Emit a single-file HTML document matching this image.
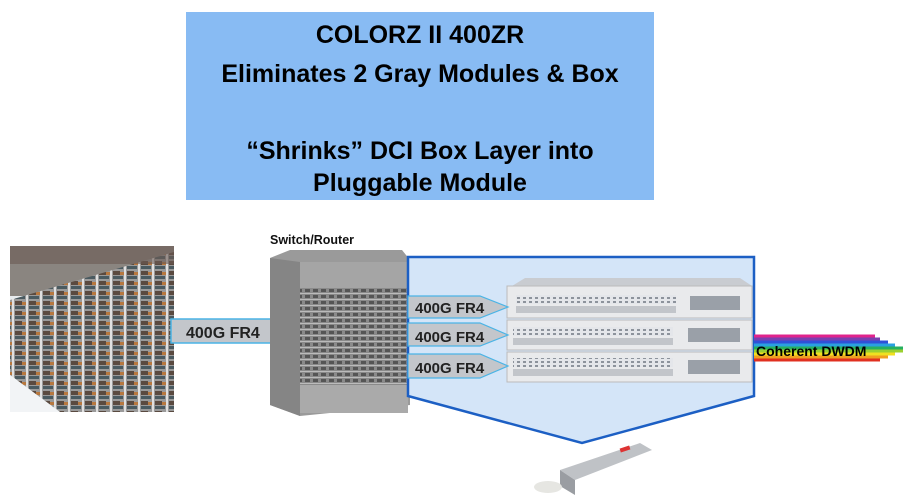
<!DOCTYPE html>
<html><head><meta charset="utf-8"><style>
html,body{margin:0;padding:0;background:#fff;width:916px;height:503px;overflow:hidden}
svg{display:block}
text{font-family:"Liberation Sans",Arial,sans-serif;font-weight:bold}
</style></head><body>
<svg width="916" height="503" viewBox="0 0 916 503" xmlns="http://www.w3.org/2000/svg">
<defs>
<pattern id="rack" width="14" height="10" patternUnits="userSpaceOnUse">
<rect width="14" height="10" fill="#9a9a9a"/>
<rect x="1" y="1" width="7" height="4" fill="#5a4a40"/>
<rect x="8" y="2" width="4" height="3" fill="#b7783f"/>
<rect x="1" y="6" width="10" height="3" fill="#4a5a60"/>
<rect x="12" y="0" width="2" height="10" fill="#e0e0e0"/>
</pattern>
<pattern id="grill" width="6" height="4" patternUnits="userSpaceOnUse">
<rect width="6" height="4" fill="#e4e6ea"/><rect x="1" y="1" width="3" height="2" fill="#8d939c"/>
</pattern>
<pattern id="rt" width="8" height="6" patternUnits="userSpaceOnUse">
<rect width="8" height="6" fill="#8a8a8a"/><rect x="1" y="1" width="5" height="3" fill="#555"/><rect x="0" y="5" width="8" height="1" fill="#bbb"/>
</pattern>
</defs>
<!-- title box -->
<rect x="186" y="12" width="468" height="188" fill="#88bbf3"/>
<g font-size="25" text-anchor="middle" fill="#000">
<text x="420" y="43">COLORZ II 400ZR</text>
<text x="420" y="82">Eliminates 2 Gray Modules &amp; Box</text>
<text x="420" y="159">“Shrinks” DCI Box Layer into</text>
<text x="420" y="191">Pluggable Module</text>
</g>
<!-- datacenter -->
<rect x="10" y="246" width="164" height="166" fill="#e8ecef"/>
<rect x="10" y="246" width="164" height="50" fill="#8a8580"/>
<polygon points="10,300 174,252 174,412 60,412 10,375" fill="url(#rack)"/>
<polygon points="10,375 60,412 10,412" fill="#f2f4f6"/>
<rect x="10" y="246" width="164" height="18" fill="#6a5a54" opacity="0.6"/>
<!-- left arrow -->
<polygon points="171,319 283,319 298,331 283,343 171,343" fill="#c3c6cb" stroke="#4ab4e6" stroke-width="1.5"/>
<text x="186" y="338" font-size="16" fill="#222">400G FR4</text>
<!-- router -->
<text x="270" y="244" font-size="12.5" fill="#111">Switch/Router</text>
<polygon points="270,258 290,250 402,250 410,260 410,405 300,416 270,405" fill="#9a9a9a"/>
<polygon points="270,258 300,262 300,416 270,405" fill="#858585"/>
<rect x="300" y="262" width="108" height="150" fill="url(#rt)"/>
<rect x="300" y="262" width="108" height="26" fill="#a5a5a5"/>
<rect x="300" y="385" width="108" height="28" fill="#aaa"/>
<!-- blue pentagon -->
<polygon points="408,257 754,257 754,396 582,443 408,396" fill="#d4e5f8" stroke="#1c5fc4" stroke-width="2.5"/>
<!-- servers -->
<g>
<polygon points="512,286 525,278 740,278 752,286" fill="#c9ccd1"/>
<rect x="507" y="286" width="245" height="32" fill="#e9eaec" stroke="#bbb"/>
<rect x="516" y="295" width="95" height="9" fill="url(#grill)"/><rect x="611" y="295" width="65" height="9" fill="url(#grill)"/>
<rect x="516" y="306" width="160" height="7" fill="#c2c5ca"/>
<rect x="507" y="320" width="245" height="30" fill="#e9eaec" stroke="#bbb"/>
<rect x="513" y="327" width="95" height="9" fill="url(#grill)"/><rect x="608" y="327" width="65" height="9" fill="url(#grill)"/>
<rect x="513" y="338" width="160" height="7" fill="#c2c5ca"/>
<rect x="507" y="352" width="245" height="30" fill="#e9eaec" stroke="#bbb"/>
<rect x="513" y="358" width="95" height="9" fill="url(#grill)"/><rect x="608" y="358" width="65" height="9" fill="url(#grill)"/>
<rect x="513" y="369" width="160" height="7" fill="#c2c5ca"/>
<rect x="690" y="296" width="50" height="14" fill="#9aa0a8"/>
<rect x="688" y="328" width="52" height="14" fill="#9aa0a8"/>
<rect x="688" y="360" width="52" height="14" fill="#9aa0a8"/>
</g>
<!-- small arrows -->
<g fill="#c3c6cb" stroke="#4ab4e6" stroke-width="1.2">
<polygon points="408,296 480,296 508,307 480,318 408,318"/>
<polygon points="408,323 480,323 508,335 480,346 408,346"/>
<polygon points="408,354 480,354 508,366 480,378 408,378"/>
</g>
<g font-size="15" fill="#222">
<text x="415" y="313">400G FR4</text>
<text x="415" y="342">400G FR4</text>
<text x="415" y="373">400G FR4</text>
</g>
<!-- DWDM rainbow -->
<g stroke-width="3">
<line x1="754" y1="336" x2="875" y2="336" stroke="#e0248c"/>
<line x1="754" y1="339" x2="880" y2="339" stroke="#7a3fb0"/>
<line x1="754" y1="342" x2="888" y2="342" stroke="#3050d8"/>
<line x1="754" y1="345" x2="895" y2="345" stroke="#2aa0e0"/>
<line x1="754" y1="348" x2="903" y2="348" stroke="#26b060"/>
<line x1="754" y1="351" x2="903" y2="351" stroke="#9ad030"/>
<line x1="754" y1="354" x2="895" y2="354" stroke="#f0e020"/>
<line x1="754" y1="357" x2="888" y2="357" stroke="#f0a020"/>
<line x1="754" y1="360" x2="880" y2="360" stroke="#e03020"/>
</g>
<text x="756" y="356" font-size="14" fill="#000">Coherent DWDM</text>
<!-- transceiver -->
<polygon points="560,470 640,443 652,450 575,480" fill="#bfc2c6"/>
<polygon points="560,470 575,480 575,495 560,486" fill="#9a9da2"/>
<ellipse cx="548" cy="487" rx="14" ry="6" fill="#e6e6e2"/>
<rect x="620" y="447" width="10" height="4" fill="#d33" transform="rotate(-18 625 449)"/>
</svg>
</body></html>
